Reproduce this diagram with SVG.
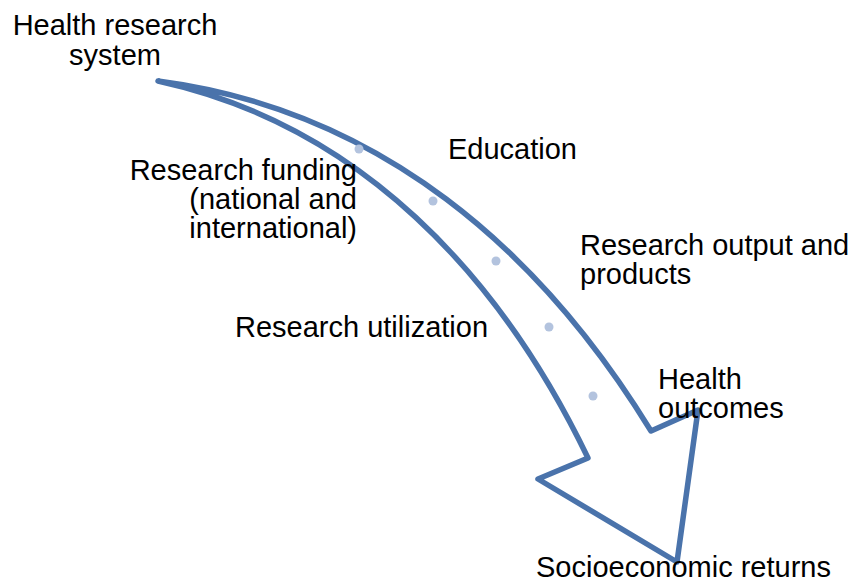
<svg xmlns="http://www.w3.org/2000/svg" width="855" height="582" viewBox="0 0 855 582">
<style>
.t{font-family:"Liberation Sans",Arial,sans-serif;font-size:29px;fill:#000}
.arrow{fill:#fff;stroke:#4a73ab;stroke-width:5.5;stroke-linejoin:round}
.dot{fill:#b3c3de}
</style>
<rect width="855" height="582" fill="#fff"/>
<g id="connectors">
<path class="arrow" d="M158,81 C380,110 540,250 651,431 L698,410 L677,562 L538,479 L588,458 C500,275 360,125 158,81 Z"/>
<circle class="dot" cx="359" cy="149" r="4.5"/>
<circle class="dot" cx="433" cy="201" r="4.5"/>
<circle class="dot" cx="496" cy="261" r="4.5"/>
<circle class="dot" cx="549" cy="327" r="4.5"/>
<circle class="dot" cx="593" cy="396" r="4.5"/>
</g>
<g id="health-research-system"><text class="t" x="115" y="35" text-anchor="middle">Health research</text><text class="t" x="115" y="65" text-anchor="middle">system</text></g>
<g id="research-funding"><text class="t" x="357" y="180" text-anchor="end">Research funding</text><text class="t" x="357" y="209" text-anchor="end">(national and</text><text class="t" x="357" y="238" text-anchor="end">international)</text></g>
<g id="education"><text class="t" x="448" y="159">Education</text></g>
<g id="research-output"><text class="t" x="580" y="255">Research output and</text><text class="t" x="580" y="284">products</text></g>
<g id="research-utilization"><text class="t" x="235" y="337">Research utilization</text></g>
<g id="health-outcomes"><text class="t" x="658" y="389">Health</text><text class="t" x="658" y="418">outcomes</text></g>
<g id="socioeconomic-returns"><text class="t" x="536" y="577">Socioeconomic returns</text></g>
</svg>
